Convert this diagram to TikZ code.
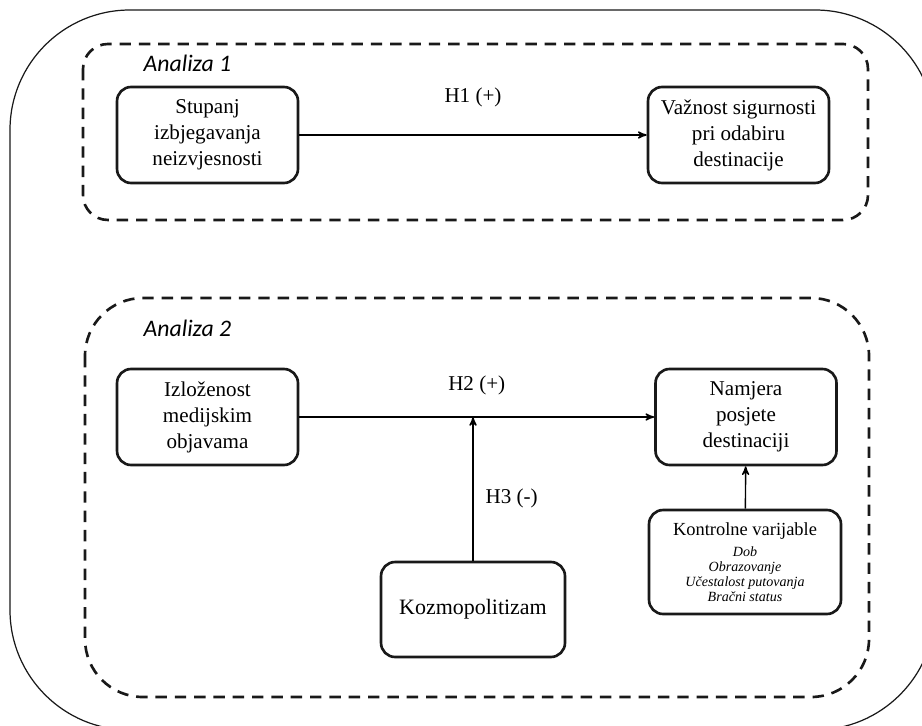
\documentclass[tikz,border=0pt]{standalone}
\usepackage{fontspec}
\setmainfont{Liberation Serif}
\newfontfamily\analizafont{Carlito}
\usepackage{tikz}
\usetikzlibrary{arrows}
\definecolor{line_black}{RGB}{25,25,25}

\begin{document}
\begin{tikzpicture}[->,thick,>=stealth',x=0.02cm,y=-0.02cm]
    \tikzstyle{box}=[draw=line_black, line width=1.5pt, rounded corners=8pt, align=center, minimum width=3.62cm, minimum height=1.92cm, inner sep=2pt, fill=none, text=black, font=\fontsize{12}{14.8}\selectfont]
    \tikzstyle{group}=[-, draw=line_black, line width=1.5pt, dash pattern=on 6.5pt off 4.5pt]
    \tikzstyle{frame}=[-, draw=line_black, line width=0.7pt, rounded corners=2.4cm]
    \tikzstyle{title}=[anchor=west, inner sep=0pt, font=\analizafont\itshape\fontsize{13.5}{16}\selectfont]
    \tikzstyle{hyp}=[font=\fontsize{12}{14}\selectfont, text=black]
    \newcommand{\ctrl}[1]{{\fontsize{8}{9}\itshape #1}}

    \clip (0,0) rectangle (922,726);
    \draw[frame] (10,10) rectangle (935,730);
    \draw[group, rounded corners=0.5cm] (83,44) rectangle (868,220);
    \draw[group, rounded corners=1.16cm] (85,298) rectangle (869,697);

    \node[title] (an1) at (143,63)  {Analiza 1};
    \node[title] (an2) at (143,328) {Analiza 2};

    \node[box] (stupanj)    at (207.5,135) {Stupanj\\izbjegavanja\\neizvjesnosti};
    \node[box] (vaznost)    at (738.5,135) {Važnost sigurnosti\\pri odabiru\\destinacije};
    \node[box] (izlozenost) at (207.5,417) {Izloženost\\medijskim\\objavama};
    \node[box] (namjera)    at (746,417)   {Namjera\\posjete\\destinaciji};
    \node[box, minimum width=3.68cm, minimum height=1.9cm, font=\fontsize{12.5}{14.8}\selectfont] (kozmo) at (473,609.5) {Kozmopolitizam};
    \node[box, minimum width=3.84cm, minimum height=2.08cm, font=\fontsize{10.5}{14.8}\selectfont] (kontrola) at (745,562)
        {Kontrolne varijable\\[-3pt]\ctrl{Dob}\\[-6.3pt]\ctrl{Obrazovanje}\\[-6.3pt]\ctrl{Učestalost putovanja}\\[-6.3pt]\ctrl{Bračni status}};

    \coordinate (h3end) at (kozmo.north |- izlozenost.east);

    \path
     (stupanj) edge node[hyp, above=0.42cm] {H1 (+)} (vaznost)
     (izlozenost) edge node[hyp, above=0.3cm] {H2 (+)} (namjera)
     (kozmo) edge node[hyp, right=0.12cm, pos=0.43] {H3 (-)} (h3end)
     (kontrola) edge (namjera)
     ;
\end{tikzpicture}
\end{document}
